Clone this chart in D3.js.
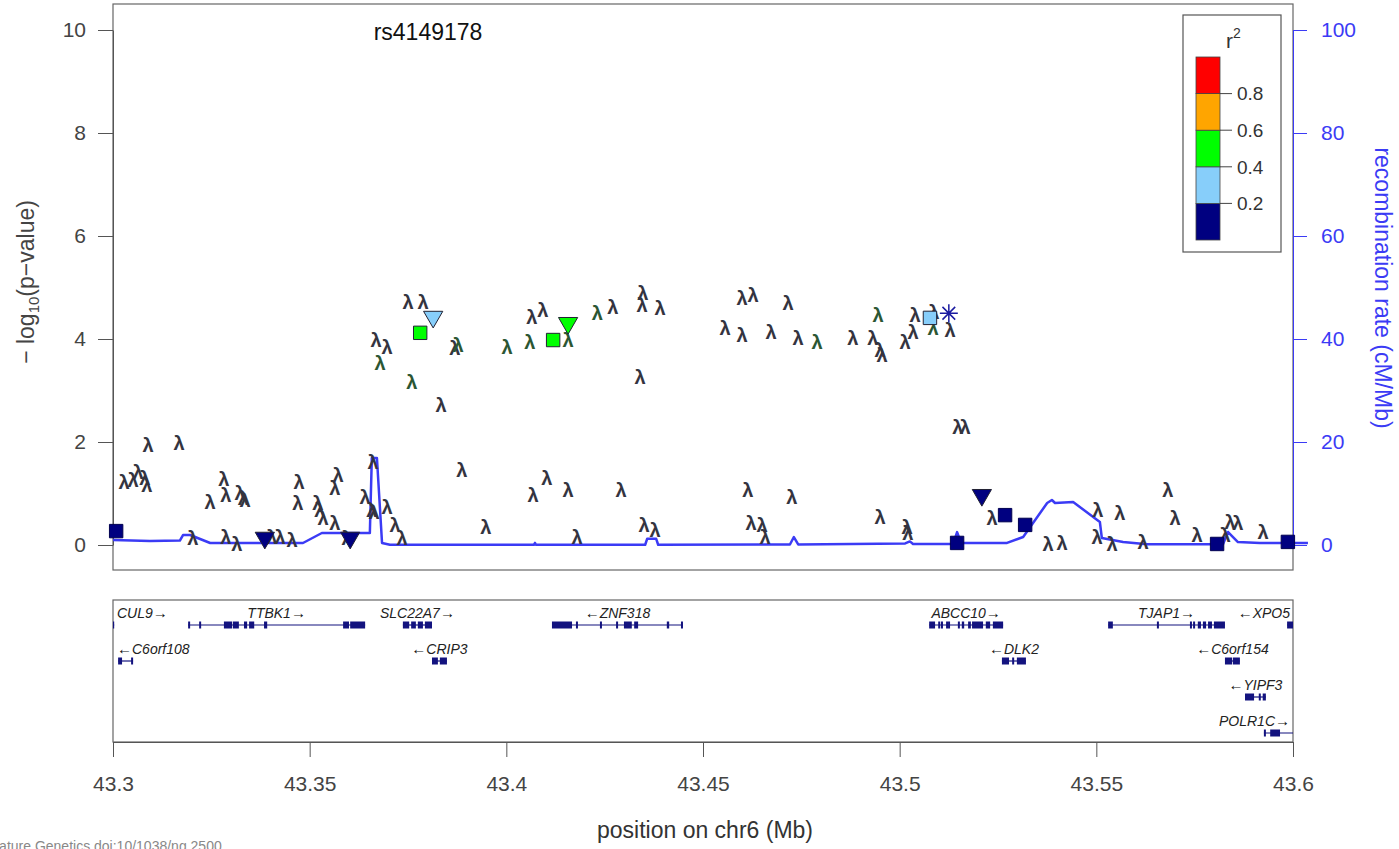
<!DOCTYPE html>
<html>
<head>
<meta charset="utf-8">
<script src="https://cdn.jsdelivr.net/npm/d3@7"></script>
<style>
  body { margin: 0; background: #fff; }
  svg { display: block; font-family: "Liberation Sans", Arial, sans-serif; }
</style>
</head>
<body>
<svg id="chart" width="1399" height="849"></svg>
<script>
// ---- data ----
// lambda-marked SNPs: position (Mb), -log10 p, colour group (g = grey, G = green)
var lamPos = [43.3089,43.3168,43.3028,43.3051,43.3064,43.3081,43.3086,43.3282,43.3287,43.3247,
  43.3323,43.3331,43.3336,43.3473,43.3470,43.3572,43.3564,43.3521,43.3526,43.3534,
  43.3564,43.3641,43.3661,43.3658,43.3664,43.3697,43.3717,43.3735,43.3203,43.3287,
  43.3315,43.3404,43.3425,43.3455,43.3595,43.3750,43.3788,43.3669,43.3697,43.3679,
  43.3760,43.3834,43.3869,43.3877,43.4002,43.4060,43.4065,43.4093,43.4157,43.4231,
  43.4271,43.4347,43.4345,43.4391,43.4340,43.3887,43.4103,43.4068,43.4157,43.4292,
  43.3948,43.4180,43.4350,43.4378,43.4599,43.4627,43.4716,43.4556,43.4599,43.4673,
  43.4742,43.4790,43.4881,43.4945,43.4932,43.4950,43.4955,43.5014,43.5039,43.5034,
  43.5087,43.5085,43.5128,43.5148,43.5166,43.4614,43.4726,43.4622,43.4650,43.4658,
  43.4950,43.5019,43.5021,43.5235,43.5377,43.5413,43.5504,43.5560,43.5502,43.5540,
  43.5619,43.5682,43.5700,43.5756,43.5827,43.5840,43.5860,43.5924]
var lamLogP = [1.94,1.98,1.22,1.26,1.42,1.30,1.17,1.28,0.97,0.83,
  1.01,0.91,0.87,1.22,0.82,1.36,1.11,0.82,0.68,0.52,
  0.43,0.93,1.61,0.68,0.64,0.74,0.39,0.14,0.14,0.16,
  0.02,0.16,0.16,0.10,0.14,4.72,4.72,3.98,3.84,3.53,
  3.17,2.72,3.83,3.88,3.84,3.94,4.43,4.56,3.98,4.50,
  4.62,4.89,4.66,4.60,3.26,1.46,1.30,0.97,1.07,1.07,
  0.35,0.16,0.39,0.29,4.80,4.85,4.70,4.21,4.08,4.14,
  4.02,3.94,4.02,4.47,4.02,3.79,3.69,3.94,4.47,4.14,
  4.52,4.21,4.17,2.29,2.29,1.07,0.93,0.43,0.39,0.16,
  0.54,0.35,0.23,0.52,0.02,0.04,0.68,0.62,0.16,0.02,
  0.06,1.07,0.52,0.19,0.19,0.45,0.43,0.25]
var lamGroup = "gggggggggggggggggggggggggggggggggggggggGGggGGGggGGgggggggggggggggggggggGgGgggggggGgggggggggggggggggggggggggg".split("")

// square-marked SNPs
var sqPos = [43.3008,43.3781,43.4119,43.5077,43.5146,43.5268,43.5319,43.5807,43.5987]
var sqLogP = [0.27,4.12,3.98,4.41,0.04,0.58,0.39,0.02,0.06]
var sqR2 = [0.1,0.5,0.5,0.3,0.1,0.1,0.1,0.1,0.1]

// down-triangle SNPs
var triPos = [43.3386,43.3603,43.3814,43.4157,43.5209]
var triLogP = [0.14,0.14,4.43,4.31,0.97]
var triR2 = [0.1,0.1,0.3,0.5,0.1]

// index SNP
var indexName = "rs4149178"
var indexPos = 43.5125
var indexLogP = 4.50

// recombination rate (cM/Mb)
var recPos = [43.3,43.3094,43.3170,43.3178,43.3196,43.3247,43.3483,43.3531,43.3653,43.3658,
  43.3671,43.3684,43.3704,43.4070,43.4073,43.4075,43.4353,43.4358,43.4381,43.4386,
  43.4721,43.4731,43.4742,43.5014,43.5026,43.5034,43.5136,43.5146,43.5156,43.5273,
  43.5314,43.5375,43.5387,43.5395,43.5441,43.5509,43.5514,43.5568,43.5629,43.5822,
  43.5835,43.5860,43.5916,43.6038]
var recRate = [0.97,0.78,0.87,1.94,1.94,0.39,0.39,2.33,2.33,16.9,
  16.9,0.39,0.05,0.05,0.4,0.05,0.05,1.2,1.2,0.05,
  0.1,1.55,0.1,0.3,0.7,0.2,0.2,2.5,0.4,0.4,
  1.55,8.16,8.74,8.16,8.35,4.47,1.36,0.58,0.15,0.15,
  2.52,0.58,0.4,0.4]

// genes
var geneNames = ["CUL9","TTBK1","SLC22A7","ZNF318","ABCC10","TJAP1","XPO5","C6orf108","CRIP3","DLK2","C6orf154","YIPF3","POLR1C"]
var geneStrand = [1,1,1,-1,1,1,-1,-1,-1,-1,-1,-1,1]
var geneRow = [0,0,0,0,0,0,0,1,1,1,1,2,3]
var geneStart = [43.2850,43.3191,43.3737,43.4116,43.5075,43.5530,43.5985,43.3013,43.3811,43.5260,43.5827,43.5878,43.5926]
var geneEnd = [43.3003,43.3641,43.3811,43.4449,43.5263,43.5827,43.6200,43.3051,43.3849,43.5321,43.5865,43.5931,43.6050]
var geneExons = [
  [[43.2995,43.3003]],
  [[43.3191,43.3196],[43.3219,43.3224],[43.3282,43.3303],[43.3305,43.3320],[43.3333,43.3341],[43.3346,43.3359],[43.3384,43.3392],[43.3585,43.3600],[43.3603,43.3641]],
  [[43.3737,43.3753],[43.3758,43.3770],[43.3775,43.3788],[43.3793,43.3811]],
  [[43.4116,43.4167],[43.4177,43.4182],[43.4238,43.4243],[43.4279,43.4284],[43.4299,43.4319],[43.4325,43.4335],[43.4408,43.4414],[43.4444,43.4449]],
  [[43.5075,43.5090],[43.5098,43.5103],[43.5105,43.5110],[43.5118,43.5120],[43.5123,43.5128],[43.5148,43.5153],[43.5158,43.5164],[43.5174,43.5181],[43.5184,43.5212],[43.5219,43.5230],[43.5237,43.5263]],
  [[43.5530,43.5542],[43.5654,43.5657],[43.5738,43.5743],[43.5746,43.5751],[43.5758,43.5766],[43.5771,43.5779],[43.5784,43.5794],[43.5799,43.5827]],
  [[43.5985,43.6010]],
  [[43.3013,43.3023],[43.3046,43.3051]],
  [[43.3811,43.3826],[43.3831,43.3849]],
  [[43.5260,43.5278],[43.5286,43.5291],[43.5298,43.5321]],
  [[43.5827,43.5845],[43.5847,43.5865]],
  [[43.5878,43.5901],[43.5913,43.5918],[43.5923,43.5931]],
  [[43.5926,43.5931],[43.5942,43.5967]]
]

var xTicks = [43.3,43.35,43.4,43.45,43.5,43.55,43.6]
var yTicks = [0,2,4,6,8,10]
var recTicks = [0,20,40,60,80,100]
var r2Breaks = [0.2,0.4,0.6,0.8]
var r2Colors = ["#000080","#87CEFA","#00FF00","#FFA500","#FF0000"]

// ---- drawing ----
var svg = d3.select("#chart")
var blue = "#3b3bf5"
var grey = "#444"

var x = d3.scaleLinear().domain([43.3,43.6]).range([113,1293])
var y = d3.scaleLinear().domain([0,10]).range([545,30])
var yr = d3.scaleLinear().domain([0,100]).range([545,30])
var r2col = d3.scaleThreshold().domain(r2Breaks).range(r2Colors)

// plot frames
svg.append("rect").attr("x",113).attr("y",4).attr("width",1180).attr("height",566)
  .attr("fill","none").attr("stroke","#666").attr("stroke-width",1.2)
svg.append("rect").attr("x",113).attr("y",600).attr("width",1180).attr("height",142)
  .attr("fill","none").attr("stroke","#666").attr("stroke-width",1.2)

// left axis
var gl = svg.append("g").attr("transform","translate(113,0)")
  .call(d3.axisLeft(y).tickValues(yTicks).tickSize(15).tickSizeOuter(0).tickPadding(12))
gl.selectAll("path,line").attr("stroke","#555")
gl.selectAll("text").attr("font-size",21).attr("fill",grey).attr("font-family","Liberation Sans, Arial")

// right axis (recombination)
var gr = svg.append("g").attr("transform","translate(1293,0)")
  .call(d3.axisRight(yr).tickValues(recTicks).tickSize(14).tickSizeOuter(0).tickPadding(14))
gr.selectAll("path,line").attr("stroke",blue)
gr.selectAll("text").attr("font-size",21).attr("fill",blue).attr("font-family","Liberation Sans, Arial")

// bottom axis
var gb = svg.append("g").attr("transform","translate(0,742)")
  .call(d3.axisBottom(x).tickValues(xTicks).tickSize(15).tickSizeOuter(0).tickPadding(19)
    .tickFormat(function(d){ return String(+d.toFixed(2)) }))
gb.selectAll("path,line").attr("stroke","#555")
gb.selectAll("text").attr("font-size",21).attr("fill",grey).attr("font-family","Liberation Sans, Arial")

// axis titles
var yt = svg.append("text").attr("transform","translate(34,282) rotate(-90)")
  .attr("text-anchor","middle").attr("font-size",23).attr("fill",grey)
yt.append("tspan").text("\u2212 log")
yt.append("tspan").text("10").attr("font-size",15).attr("dy",5)
yt.append("tspan").text("(p\u2212value)").attr("dy",-5)

svg.append("text").attr("transform","translate(1375,288) rotate(90)")
  .attr("text-anchor","middle").attr("font-size",23).attr("fill",blue)
  .text("recombination rate (cM/Mb)")

svg.append("text").attr("x",705).attr("y",838).attr("text-anchor","middle")
  .attr("font-size",23).attr("fill","#333").text("position on chr6 (Mb)")

svg.append("text").attr("x",-11).attr("y",851).attr("font-size",14).attr("fill","#888")
  .text("Nature Genetics doi:10/1038/ng.2500")

// recombination line
var recData = recPos.map(function(p,i){ return [p, recRate[i]] })
svg.append("path").datum(recData)
  .attr("d", d3.line().x(function(d){ return x(d[0]) }).y(function(d){ return yr(d[1]) }))
  .attr("fill","none").attr("stroke",blue).attr("stroke-width",2.5).attr("stroke-linejoin","round")

// lambda points
var lamData = lamPos.map(function(p,i){ return {p:p, v:lamLogP[i], g:lamGroup[i]} })
svg.append("g").selectAll("text").data(lamData).enter().append("text")
  .attr("x",function(d){ return x(d.p) })
  .attr("y",function(d){ return y(d.v) })
  .attr("dy","0.36em")
  .attr("text-anchor","middle")
  .attr("font-size",20).attr("font-weight","bold")
  .attr("fill",function(d){ return d.g=="G" ? "#2b5633" : "#34343f" })
  .text("\u03bb")

// squares
var sq = d3.symbol().type(d3.symbolSquare).size(180)
svg.append("g").selectAll("path").data(sqPos.map(function(p,i){ return {p:p, v:sqLogP[i], r:sqR2[i]} }))
  .enter().append("path")
  .attr("d",sq)
  .attr("transform",function(d){ return "translate("+x(d.p)+","+y(d.v)+")" })
  .attr("fill",function(d){ return r2col(d.r) })
  .attr("stroke",function(d){ return d.r < 0.2 ? "#000050" : "#223" }).attr("stroke-width",1)

// down triangles
var tri = d3.symbol().type(d3.symbolTriangle).size(160)
svg.append("g").selectAll("path").data(triPos.map(function(p,i){ return {p:p, v:triLogP[i], r:triR2[i]} }))
  .enter().append("path")
  .attr("d",tri)
  .attr("transform",function(d){ return "translate("+x(d.p)+","+y(d.v)+") rotate(180)" })
  .attr("fill",function(d){ return r2col(d.r) })
  .attr("stroke","#223").attr("stroke-width",1)

// index SNP asterisk
var ix = x(indexPos), iy = y(indexLogP), ir = 9
var ast = d3.path()
for (var k = 0; k < 4; k++) {
  var a = k*Math.PI/4
  ast.moveTo(ix - ir*Math.cos(a), iy - ir*Math.sin(a))
  ast.lineTo(ix + ir*Math.cos(a), iy + ir*Math.sin(a))
}
svg.append("path").attr("d",ast.toString()).attr("stroke","#1a1aa0").attr("stroke-width",1.5).attr("fill","none")

svg.append("text").attr("x",428).attr("y",32).attr("dy","0.35em").attr("text-anchor","middle")
  .attr("font-size",23).attr("fill","#111").text(indexName)

// legend
var lg = svg.append("g")
lg.append("rect").attr("x",1183).attr("y",15).attr("width",98).attr("height",237)
  .attr("fill","#fff").attr("stroke","#555").attr("stroke-width",1.2)
var yl = d3.scaleLinear().domain([0,1]).range([240,57])
var bands = [0].concat(r2Breaks).map(function(lo,i,arr){ return {lo:lo, hi: i < arr.length-1 ? arr[i+1] : 1} })
lg.selectAll("rect.band").data(bands).enter().append("rect").attr("class","band")
  .attr("x",1196).attr("width",24)
  .attr("y",function(d){ return yl(d.hi) })
  .attr("height",function(d){ return yl(d.lo)-yl(d.hi) })
  .attr("fill",function(d){ return r2col(d.lo) })
  .attr("stroke","#444").attr("stroke-width",0.8)
lg.selectAll("line.tk").data(r2Breaks).enter().append("line").attr("class","tk")
  .attr("x1",1220).attr("x2",1232)
  .attr("y1",function(d){ return yl(d) }).attr("y2",function(d){ return yl(d) })
  .attr("stroke","#444")
lg.selectAll("text.tl").data(r2Breaks).enter().append("text").attr("class","tl")
  .attr("x",1237).attr("y",function(d){ return yl(d) }).attr("dy","0.36em")
  .attr("font-size",19).attr("fill","#333").text(function(d){ return d.toFixed(1) })
var rt = lg.append("text").attr("x",1226).attr("y",48).attr("font-size",21).attr("fill","#333")
rt.append("tspan").text("r")
rt.append("tspan").text("2").attr("font-size",14).attr("dy",-10)

// gene track
svg.append("clipPath").attr("id","gclip").append("rect")
  .attr("x",113).attr("y",600).attr("width",1180).attr("height",142)
var gt = svg.append("g").attr("clip-path","url(#gclip)")
var navy = "#13137f"
geneNames.forEach(function(name,i){
  var by = 625 + geneRow[i]*36
  var gg = gt.append("g")
  gg.append("line").attr("x1",x(geneStart[i])).attr("x2",x(geneEnd[i]))
    .attr("y1",by).attr("y2",by).attr("stroke",navy).attr("stroke-width",1.2)
  gg.selectAll("rect").data(geneExons[i]).enter().append("rect")
    .attr("x",function(d){ return x(d[0]) })
    .attr("width",function(d){ return Math.max(2, x(d[1])-x(d[0])) })
    .attr("y",by-3.5).attr("height",7).attr("fill",navy)
})

// gene labels with strand arrows
var lt = svg.append("g")
geneNames.forEach(function(name,i){
  var t = lt.append("text").attr("y",618 + geneRow[i]*36)
    .attr("font-size",14).attr("font-style","italic").attr("fill","#222")
  function arrow(ch){
    t.append("tspan").text(ch).attr("font-style","normal").attr("font-weight","bold")
      .attr("font-size",15).attr("fill","#111")
  }
  if (geneStrand[i] < 0) arrow("\u2190")
  t.append("tspan").text(name)
  if (geneStrand[i] > 0) arrow("\u2192")
  var w = t.node().getComputedTextLength()
  var cx = x((geneStart[i]+geneEnd[i])/2) - w/2
  cx = Math.max(117, Math.min(1290 - w, cx))
  t.attr("x",cx)
})
</script>
</body>
</html>
